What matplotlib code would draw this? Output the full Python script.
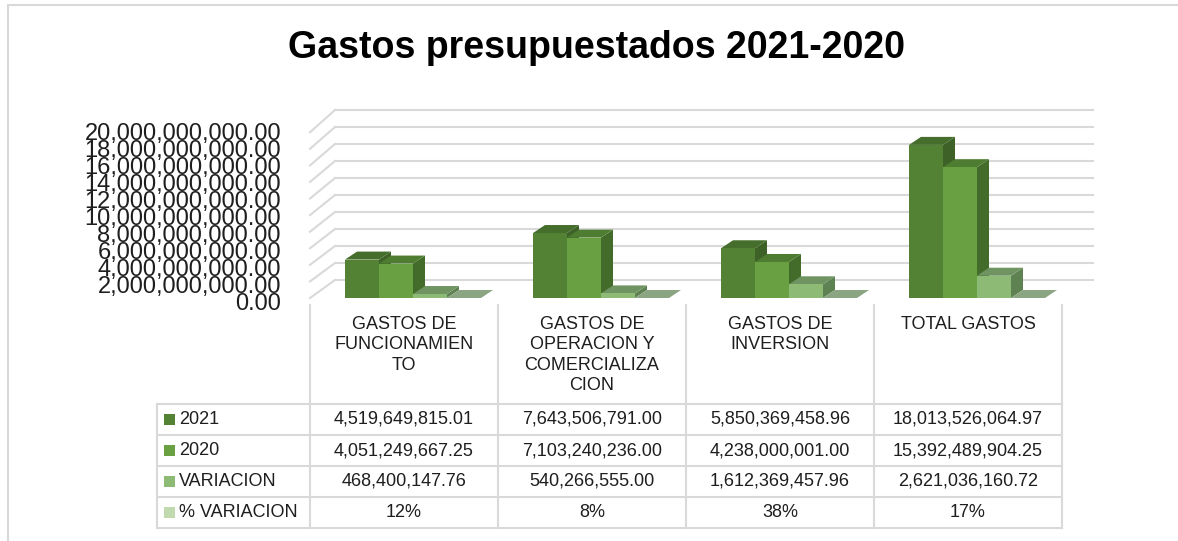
import matplotlib.pyplot as plt
from matplotlib.patches import Polygon, Rectangle

plt.rcParams['font.family'] = ['Liberation Sans', 'DejaVu Sans']

# Presupuesto por tipo de gasto
categorias = ['GASTOS DE\nFUNCIONAMIEN\nTO',
              'GASTOS DE\nOPERACION Y\nCOMERCIALIZA\nCION',
              'GASTOS DE\nINVERSION',
              'TOTAL GASTOS']
series = ['2021', '2020', 'VARIACION', '% VARIACION']
gasto_2021 = [4519649815.01, 7643506791.00, 5850369458.96, 18013526064.97]
gasto_2020 = [4051249667.25, 7103240236.00, 4238000001.00, 15392489904.25]
variacion = [468400147.76, 540266555.00, 1612369457.96, 2621036160.72]
pct_variacion = [0.12, 0.08, 0.38, 0.17]
y_ticks = [0, 2e9, 4e9, 6e9, 8e9, 10e9, 12e9, 14e9, 16e9, 18e9, 20e9]

valores = [gasto_2021, gasto_2020, variacion, pct_variacion]
# front, top, side
colores = [('#548235', '#456d2b', '#3d6126'),
           ('#69a042', '#4e7d31', '#436b2a'),
           ('#8dbb76', '#6f9462', '#5e8251'),
           ('#c0d9ae', '#8ba583', '#7a9672')]
grid_c = '#d9d9d9'
text_c = '#1e1e1e'

W, H = 1178, 541
fig = plt.figure(figsize=(W / 100, H / 100), dpi=100)


def rect(l, t, r, b):
    return [l / W, 1 - b / H, (r - l) / W, (b - t) / H]


# outer chart border
fig.patches.append(Rectangle((8 / W, -0.1), 1.2, 1 - 5 / H + 0.1, transform=fig.transFigure,
                             fill=False, edgecolor=grid_c, lw=1.5))

fig.text(596 / W, 1 - 48 / H, 'Gastos presupuestados 2021-2020', ha='center', va='center',
         fontsize=27, fontweight='bold', color='black')

# chart area: one category = 188 px, 1e9 = 8.5 px
cat_px = 188
x_max = 4.26
ax = fig.add_axes(rect(310, 100, 310 + x_max * cat_px, 298))
ax.set_xlim(0, x_max)
ax.set_ylim(0, 198 / 8.5 * 1e9)
ax.axis('off')

wall_dx = 25 / cat_px
wall_dy = 18 / 8.5 * 1e9
for v in y_ticks:
    ax.plot([wall_dx, 4.165], [v + wall_dy, v + wall_dy], color=grid_c, lw=1.5, zorder=1,
            clip_on=False)
    ax.plot([0, wall_dx], [v * 0.975, v + wall_dy], color=grid_c, lw=1.5, zorder=1,
            clip_on=False)
    ax.text(-29 / cat_px, v - 0.7e9, f'{v:,.2f}', ha='right', va='center', fontsize=17,
            color=text_c, clip_on=False)

bar_w = 34 / cat_px
off = 35 / cat_px
dx = 12 / cat_px
dy = 8 / 8.5 * 1e9
z = 3
for s, vals in enumerate(valores):
    front, top, side = colores[s]
    for i, h in enumerate(vals):
        x0 = i + off + s * bar_w
        ax.add_patch(Polygon([(x0 + bar_w, 0), (x0 + bar_w + dx, dy), (x0 + bar_w + dx, h + dy),
                              (x0 + bar_w, h)], closed=True, facecolor=side, edgecolor='none',
                             zorder=z))
        ax.add_patch(Polygon([(x0, h), (x0 + bar_w, h), (x0 + bar_w + dx, h + dy), (x0 + dx, h + dy)],
                             closed=True, facecolor=top, edgecolor='none', zorder=z + 0.1))
        ax.bar(x0, h, width=bar_w, align='edge', color=front, zorder=z + 0.2)
        z += 1

# data table
tab = fig.add_axes(rect(157, 305, 1062, 528))
x_left = -(310 - 157) / cat_px
top_y = 223 / 31
tab.set_xlim(x_left, 4)
tab.set_ylim(0, top_y)
tab.axis('off')

for x in range(5):
    tab.plot([x, x], [0, top_y], color=grid_c, lw=1.5, clip_on=False)
tab.plot([x_left, x_left], [0, 4], color=grid_c, lw=1.5, clip_on=False)
for y in range(5):
    tab.plot([x_left, 4], [y, y], color=grid_c, lw=1.5, clip_on=False)

for i, cat in enumerate(categorias):
    tab.text(i + 0.5, (528 - 316) / 31, cat, ha='center', va='top', fontsize=13,
             linespacing=1.25, color=text_c)

for s, vals in enumerate(valores):
    yc = 3.5 - s
    tab.add_patch(Rectangle(((164 - 310) / cat_px, yc - 0.18), 11 / cat_px, 11 / 31,
                            facecolor=colores[s][0], edgecolor='none'))
    tab.text((179 - 310) / cat_px, yc, series[s], ha='left', va='center', fontsize=13,
             color=text_c)
    for i, v in enumerate(vals):
        label = f'{v:.0%}' if s == 3 else f'{v:,.2f}'
        tab.text(i + 0.5, yc, label, ha='center', va='center', fontsize=13, color=text_c)

fig.savefig('out.png', dpi=100)
